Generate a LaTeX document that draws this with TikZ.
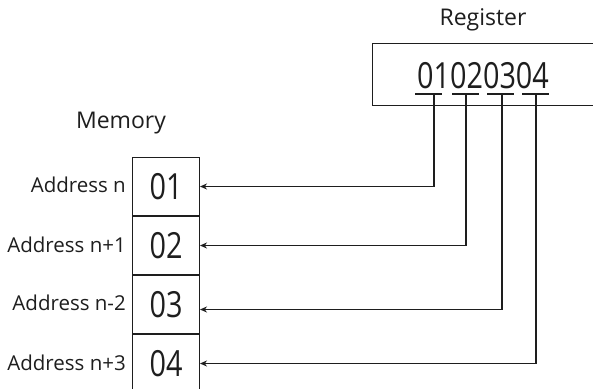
\documentclass[tikz,border=0pt]{standalone}
\usepackage{fontspec}
\setmainfont{Open Sans}
\newfontfamily\digfont{Open Sans}[FakeStretch=0.8]
\usetikzlibrary{arrows.meta,calc}
\definecolor{ink}{HTML}{1E1E1E}
\begin{document}
\begin{tikzpicture}[x=1pt,y=-1pt,
  cell/.style={draw=ink,line width=1pt,minimum width=67pt,minimum height=58pt,inner sep=0pt,
    font=\digfont\fontsize{36}{36}\selectfont,text=ink},
  addr/.style={anchor=east,inner sep=0pt,font=\fontsize{20.5}{20.5}\selectfont,text=ink},
  title/.style={inner sep=0pt,font=\fontsize{23}{23}\selectfont,text=ink},
  wire/.style={draw=ink,line width=1.8pt,-{Stealth[length=7pt,width=6pt]}},
  ubar/.style={draw=ink,line width=2.2pt}]
\useasboundingbox (0,0) rectangle (593,388);
\clip (0,0) rectangle (593,388);
\fill[white] (0,0) rectangle (593,388);
% register
\node[title] (regt) at (483,20) {Register};
\node[draw=ink,line width=1pt,anchor=north west,minimum width=240pt,minimum height=62pt,inner sep=0pt] (reg) at (372,43) {};
\node[inner sep=0pt,font=\digfont\fontsize{36}{36}\selectfont,text=ink] (regv) at (483,76) {01020304};
% underline segments
\coordinate (u1) at (434,94);
\coordinate (u2) at (466,94);
\coordinate (u3) at (502,94);
\coordinate (u4) at (536,94);
\draw[ubar] (415,94) -- (442,94);
\draw[ubar] (452,94) -- (479,94);
\draw[ubar] (487,94) -- (514,94);
\draw[ubar] (522,94) -- (549,94);
% memory
\node[title] (memt) at (121,123) {Memory};
\node[cell,anchor=north west] (m1) at (132,157) {01};
\node[cell,anchor=north] (m2) at (m1.south) {02};
\node[cell,anchor=north] (m3) at (m2.south) {03};
\node[cell,anchor=north] (m4) at (m3.south) {04};
\node[addr] (a1) at (126,185) {Address n};
\node[addr] (a2) at (126,245) {Address n+1};
\node[addr] (a3) at (126,303) {Address n-2};
\node[addr] (a4) at (126,363) {Address n+3};
% wires
\draw[wire] (u1) |- (m1.east);
\draw[wire] (u2) |- (m2.east);
\draw[wire] (u3) |- ($(m3.east)+(0,5)$);
\draw[wire] (u4) |- (m4.east);
\end{tikzpicture}
\end{document}
